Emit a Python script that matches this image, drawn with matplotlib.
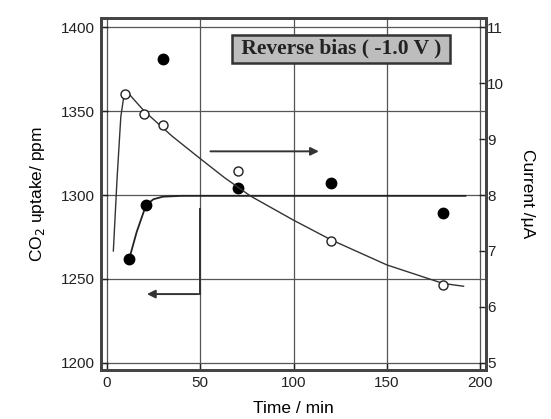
import matplotlib.pyplot as plt

plt.rcParams['font.family'] = ['Liberation Sans', 'DejaVu Sans']

# CO2 uptake (filled circles, left axis)
co2_time = [12, 21, 30, 70, 120, 180]
co2_ppm = [1262, 1294, 1381, 1304, 1307, 1289]

# current (open circles, right axis)
cur_time = [10, 20, 30, 70, 120, 180]
cur_ua = [9.8, 9.45, 9.25, 8.42, 7.18, 6.4]

# fitted curves
co2_fit_t = [12, 16, 21, 25, 30, 40, 60, 100, 150, 192]
co2_fit_y = [1262, 1278, 1294, 1297.5, 1299, 1299.5, 1299.5, 1299.5, 1299.5, 1299.5]

cur_fit_t = [3.5, 5.5, 7.5, 9.5, 12, 16, 20, 25, 30, 35, 50, 63, 77, 100, 120, 150, 180, 191]
cur_fit_y = [7.0, 8.3, 9.4, 9.85, 9.8, 9.65, 9.5, 9.35, 9.2, 9.05, 8.65, 8.31, 7.98, 7.55, 7.2, 6.75, 6.42, 6.37]

x_ticks = [0, 50, 100, 150, 200]
left_ticks = [1200, 1250, 1300, 1350, 1400]
right_ticks = [5, 6, 7, 8, 9, 10, 11]

fig = plt.figure(figsize=(5.51, 4.19), dpi=100)
ax = fig.add_axes([0.183, 0.117, 0.699, 0.84])
ax2 = ax.twinx()

ax.set_xlim(-3.2, 203)
ax.set_ylim(1195.8, 1405.4)
ax2.set_ylim(5 - 4.2 / 33.33, 11 + 5.4 / 33.33)

ax.set_xticks(x_ticks)
ax.set_yticks(left_ticks)
ax2.set_yticks(right_ticks)

ax.grid(True, color='#555555', linewidth=0.9)
ax.set_axisbelow(True)

ax.plot(co2_fit_t, co2_fit_y, color='#222222', linewidth=1.3)
ax.plot(co2_time, co2_ppm, 'o', color='black', markersize=7.5, zorder=5)

ax2.plot(cur_fit_t, cur_fit_y, color='#333333', linewidth=1.0)
ax2.plot(cur_time, cur_ua, 'o', markerfacecolor='white', markeredgecolor='#222222',
         markeredgewidth=1.0, markersize=6.5, zorder=5)

# arrows pointing to the axes
ax.plot([50, 50], [1291.5, 1241], color='#333333', linewidth=1.4)
ax.annotate('', xy=(20, 1241), xytext=(50.5, 1241),
            arrowprops=dict(arrowstyle='-|>', color='#333333', lw=1.4,
                            mutation_scale=12))
ax.annotate('', xy=(115, 1326), xytext=(54, 1326),
            arrowprops=dict(arrowstyle='-|>', color='#333333', lw=1.4,
                            mutation_scale=12))

ax.text(125.5, 1387, ' Reverse bias ( -1.0 V ) ', family='Liberation Serif',
        fontweight='bold', fontsize=15.5, ha='center', va='center', color='#222222',
        bbox=dict(boxstyle='square,pad=0.18', facecolor='#bdbdbd',
                  edgecolor='#333333', linewidth=1.8))

for a in (ax, ax2):
    for s in a.spines.values():
        s.set_linewidth(2)
        s.set_color('#444444')
    a.tick_params(direction='in', length=5, width=1, labelsize=11, colors='#222222')

ax.tick_params(pad=4)
ax2.tick_params(pad=1)

ax.set_xlabel('Time / min', fontsize=12.5, labelpad=8)
ax.set_ylabel('CO$_2$ uptake/ ppm', fontsize=12.5, labelpad=10)
ax2.set_ylabel('Current /\u03bcA', fontsize=12.5, rotation=-90, labelpad=22)

fig.savefig('out.png', dpi=100)
